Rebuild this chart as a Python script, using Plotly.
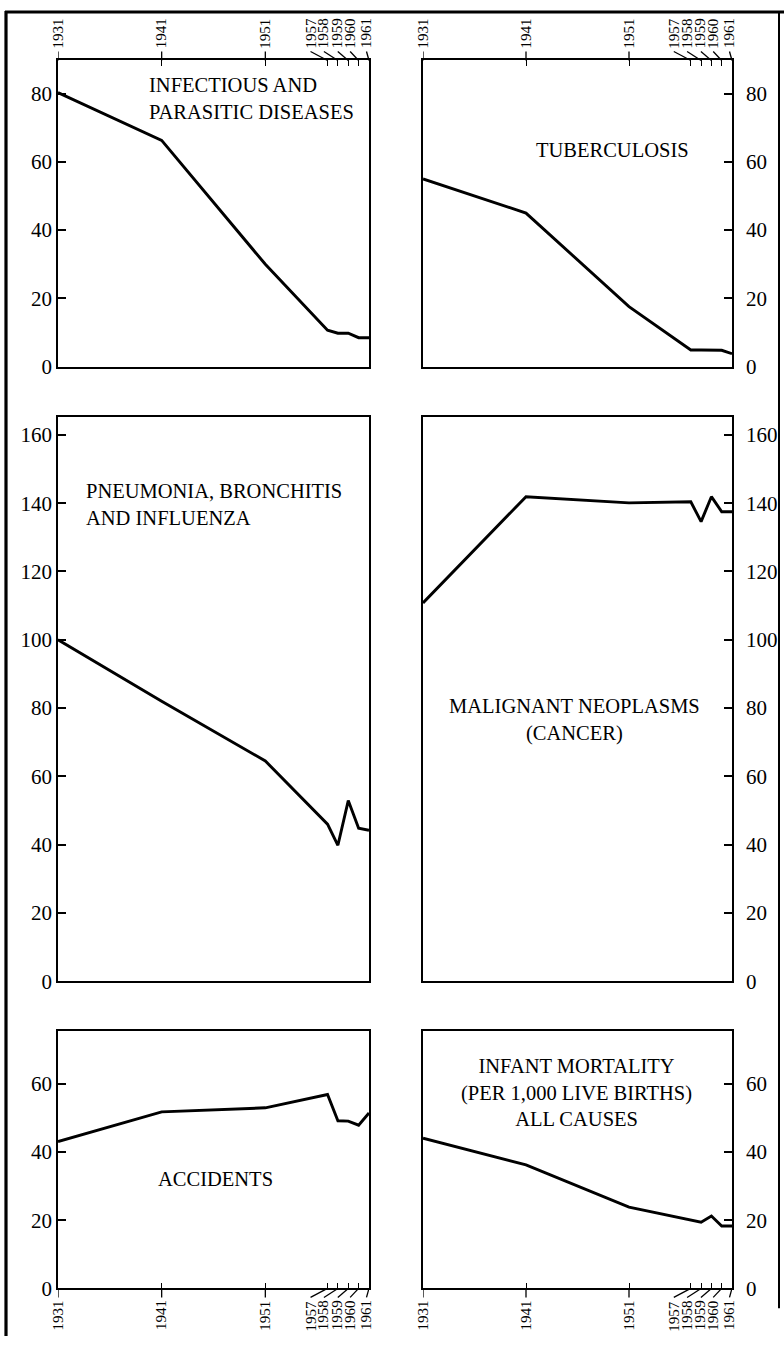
import plotly.graph_objects as go

# ---------------- data ----------------
years = [1931, 1941, 1951, 1957, 1958, 1959, 1960, 1961]
year_labels = ["1931", "1941", "1951", "1957", "1958", "1959", "1960", "1961"]

infectious = [80.3, 66.3, 30.0, 10.7, 9.8, 9.8, 8.5, 8.5]
tuberculosis = [55.0, 45.0, 17.6, 4.9, 4.9, 4.9, 4.8, 3.8]
pneumonia = [100.0, 82.0, 64.5, 46.0, 39.8, 52.9, 44.8, 44.2]
cancer = [110.8, 141.9, 140.1, 140.4, 134.6, 141.9, 137.5, 137.5]
accidents = [43.0, 51.7, 52.9, 56.8, 49.1, 49.0, 47.8, 51.4]
infant = [44.0, 36.2, 23.8, 20.0, 19.4, 21.2, 18.3, 18.3]

yticks_top = [0, 20, 40, 60, 80]
yticks_mid = [0, 20, 40, 60, 80, 100, 120, 140, 160]
yticks_bot = [0, 20, 40, 60]

titles = [
    "INFECTIOUS AND<br>PARASITIC DISEASES",
    "TUBERCULOSIS",
    "PNEUMONIA, BRONCHITIS<br>AND INFLUENZA",
    "MALIGNANT NEOPLASMS<br>(CANCER)",
    "ACCIDENTS",
    "INFANT MORTALITY<br>(PER 1,000 LIVE BIRTHS)<br>ALL CAUSES",
]

# ---------------- layout geometry (pixels) ----------------
W, H = 784, 1348
FONT = "Liberation Serif, Times New Roman, serif"
PX_PER_UNIT = 3.445
TITLE_SIZE = 20.5
TICK_SIZE = 21
YEAR_SIZE = 15


def fx(p):
    return p / W


def fy(p):
    return 1 - p / H


cols = {"L": (58, 369), "R": (423, 732)}
rows = {"T": (61, 370), "M": (421, 990), "B": (1040, 1300)}

# horizontal offsets (px) of the crowded year labels from their ticks
label_shift = [0, 0, 0, -17, -14, -10.5, -8.5, -2.5]

panels = [
    dict(y=infectious, col="L", row="T", ticks=yticks_top, title=titles[0],
         tpos=(147, 99.5), anchor="left", align="left"),
    dict(y=tuberculosis, col="R", row="T", ticks=yticks_top, title=titles[1],
         tpos=(612, 151), anchor="center", align="center"),
    dict(y=pneumonia, col="L", row="M", ticks=yticks_mid, title=titles[2],
         tpos=(84, 509), anchor="left", align="left"),
    dict(y=cancer, col="R", row="M", ticks=yticks_mid, title=titles[3],
         tpos=(574, 726), anchor="center", align="center"),
    dict(y=accidents, col="L", row="B", ticks=yticks_bot, title=titles[4],
         tpos=(216, 1190), anchor="center", align="center"),
    dict(y=infant, col="R", row="B", ticks=yticks_bot, title=titles[5],
         tpos=(576, 1102.5), anchor="center", align="center"),
]

fig = go.Figure()
layout = dict(
    width=W, height=H,
    margin=dict(l=0, r=0, t=0, b=0),
    paper_bgcolor="white", plot_bgcolor="white",
    showlegend=False,
    font=dict(family=FONT, color="black", size=TICK_SIZE),
)
annotations = []
shapes = []

# page frame of the scanned figure
shapes += [
    dict(type="line", xref="paper", yref="paper", layer="above",
         x0=fx(6), x1=fx(6), y0=0, y1=fy(11),
         line=dict(color="black", width=3.2)),
    dict(type="line", xref="paper", yref="paper", layer="above",
         x0=fx(5), x1=1, y0=fy(12), y1=fy(12),
         line=dict(color="black", width=3)),
    dict(type="line", xref="paper", yref="paper", layer="above",
         x0=fx(779), x1=fx(779), y0=fy(1320), y1=fy(12),
         line=dict(color="black", width=2)),
]

for i, p in enumerate(panels, start=1):
    xa = "x" if i == 1 else f"x{i}"
    ya = "y" if i == 1 else f"y{i}"
    xkey = "xaxis" if i == 1 else f"xaxis{i}"
    ykey = "yaxis" if i == 1 else f"yaxis{i}"
    c0, c1 = cols[p["col"]]
    r0, r1 = rows[p["row"]]
    ymax = (r1 - r0) / PX_PER_UNIT

    fig.add_trace(go.Scatter(
        x=years, y=p["y"], mode="lines", xaxis=xa, yaxis=ya,
        line=dict(color="black", width=2.9), hoverinfo="skip",
    ))

    xside = "top" if p["row"] == "T" else "bottom"
    has_xticks = p["row"] in ("T", "B")
    layout[xkey] = dict(
        domain=[fx(c0), fx(c1)], anchor=ya, range=[1931, 1961], side=xside,
        showgrid=False, zeroline=False, showline=True, mirror=True,
        linecolor="black", linewidth=1.8,
        tickvals=years if has_xticks else [], ticks="inside" if has_xticks else "",
        ticklen=6, tickwidth=1.3, tickcolor="black", showticklabels=False,
    )
    yside = "left" if p["col"] == "L" else "right"
    layout[ykey] = dict(
        domain=[fy(r1), fy(r0)], anchor=xa, range=[0, ymax], side=yside,
        showgrid=False, zeroline=False, showline=True, mirror=True,
        linecolor="black", linewidth=1.8,
        tickvals=p["ticks"], ticktext=[str(t) for t in p["ticks"]],
        ticks="inside", ticklen=8, tickwidth=1.5, tickcolor="black",
        tickfont=dict(family=FONT, size=TICK_SIZE, color="black"),
        ticklabelstandoff=0 if yside == "left" else 8,
    )

    # panel title
    tx, ty = p["tpos"]
    annotations.append(dict(
        x=fx(tx), y=fy(ty), xref="paper", yref="paper", text=p["title"],
        showarrow=False, xanchor=p["anchor"], yanchor="middle", align=p["align"],
        font=dict(family=FONT, size=TITLE_SIZE, color="black"),
    ))

    # year labels with leader strokes
    if has_xticks:
        axis_y = fy(r0) if xside == "top" else fy(r1)
        sgn = 1 if xside == "top" else -1
        for yr, lab, sh in zip(years, year_labels, label_shift):
            annotations.append(dict(
                x=yr, xref=xa, y=axis_y, yref="paper", text=lab,
                textangle=-90, showarrow=False, xanchor="center",
                yanchor="bottom" if sgn > 0 else "top",
                xshift=sh, yshift=sgn * 10,
                font=dict(family=FONT, size=YEAR_SIZE, color="black"),
            ))
            shapes.append(dict(
                type="line", xref=xa, xsizemode="pixel", xanchor=yr,
                x0=0, x1=sh, yref="paper", ysizemode="pixel", yanchor=axis_y,
                y0=0, y1=sgn * 9, line=dict(color="black", width=1.3),
            ))

layout["annotations"] = annotations
layout["shapes"] = shapes
fig.update_layout(**layout)
fig.write_html(
    "out.html",
    config={"displayModeBar": False},
    post_script="document.body.style.margin='0';document.body.style.overflow='hidden';",
)
